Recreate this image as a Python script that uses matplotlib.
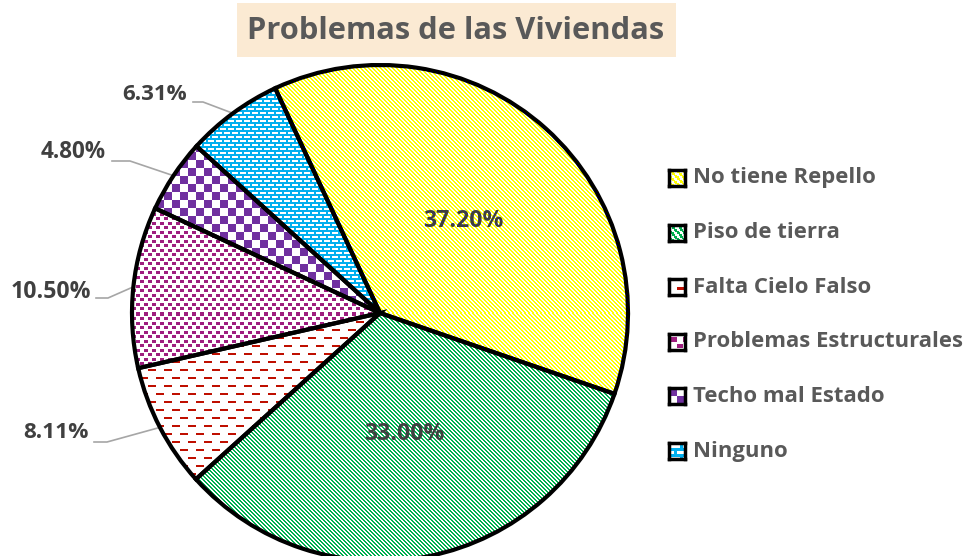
import numpy as np
import matplotlib
matplotlib.use('Agg')
import matplotlib.pyplot as plt
from matplotlib.patches import Rectangle

# data
categories = ['No tiene Repello', 'Piso de tierra', 'Falta Cielo Falso',
              'Problemas Estructurales', 'Techo mal Estado', 'Ninguno']
values = [37.20, 33.00, 8.11, 10.50, 4.80, 6.31]
title = 'Problemas de las Viviendas'

W, H = 965, 556
CX, CY, R = 380, 313, 248   # pie centre / radius in pixels

plt.rcParams['font.family'] = ['Open Sans', 'DejaVu Sans']


def texture(kind, h, w):
    # pattern fills like the excel ones, 1 texel = 1 pixel
    yy, xx = np.mgrid[0:h, 0:w]
    img = np.ones((h, w, 3))
    if kind == 'yellow':
        mask = ((xx - yy) % 4) < 2
        col = (1.0, 1.0, 0.0)
    elif kind == 'green':
        mask = ((xx - yy) % 4) < 2
        col = (0.0, 0.69, 0.31)
    elif kind == 'reddash':
        row = (yy // 8) % 2
        mask = ((yy % 8) < 2) & (((xx + 8 * row) % 16) < 8)
        col = (0.75, 0.06, 0.0)
    elif kind == 'squares':
        a = ((yy % 9) < 3) & ((xx % 8) < 4)
        b = ((yy % 9) >= 5) & ((yy % 9) < 8) & (((xx + 4) % 8) < 4)
        mask = a | b
        col = (0.62, 0.12, 0.50)
    elif kind == 'checker':
        mask = ((xx // 8 + yy // 8) % 2) == 0
        col = (0.44, 0.19, 0.63)
    else:  # blue with white dashes
        row = (yy // 4) % 2
        white = ((yy % 4) < 2) & (((xx + 4 * row) % 8) < 6)
        mask = ~white
        col = (0.0, 0.69, 0.94)
    img[mask] = col
    return img


kinds = ['yellow', 'green', 'reddash', 'squares', 'checker', 'blue']

fig = plt.figure(figsize=(W / 100, H / 100), dpi=100)
renderer = fig.canvas.get_renderer()


def fit(t, target_px):
    # shrink/grow a text so it is as wide as in the reference
    bb = t.get_window_extent(renderer)
    t.set_fontsize(t.get_fontsize() * target_px / bb.width)


# title box
fig.patches.append(Rectangle((237 / W, 1 - 57 / H), (676 - 237) / W, 54 / H,
                             transform=fig.transFigure, facecolor='#FBEAD3',
                             edgecolor='none', zorder=0))
tt = fig.text(456 / W, 1 - 31 / H, title, ha='center', va='center',
              fontsize=22, fontweight='bold', color='#595959')
fit(tt, 417)

ax = fig.add_axes([(CX - R) / W, (H - CY - R) / H, 2 * R / W, 2 * R / H])
wedges, _ = ax.pie(values, startangle=115, counterclock=False, radius=1,
                   wedgeprops=dict(facecolor='none', edgecolor='black',
                                   linewidth=3.0, zorder=3))
for w, k in zip(wedges, kinds):
    im = ax.imshow(texture(k, 2 * R, 2 * R), extent=(-1, 1, -1, 1),
                   interpolation='nearest', zorder=1)
    im.set_clip_path(w)
ax.set_xlim(-1, 1)
ax.set_ylim(-1, 1)
ax.set_aspect('equal')
ax.axis('off')


def px2d(px, py):
    return (px - CX) / R, (CY - py) / R


# inside labels for the two big slices
for i in [0, 1]:
    w = wedges[i]
    mid = np.deg2rad((w.theta1 + w.theta2) / 2)
    t = ax.text(0.5 * np.cos(mid), 0.5 * np.sin(mid), f'{values[i]:.2f}%',
                ha='center', va='center', fontsize=16, fontweight='bold',
                color='#404040', zorder=5)
    fit(t, 80)

# outside labels: text right edge, text centre y, line start, knee (pixels)
outside = {
    5: (187, 95, (193, 102), (203, 102)),
    4: (106, 152, (112, 161), (130, 161)),
    3: (91, 292, (96, 298), (108, 298)),
    2: (89, 433, (94, 442), (107, 442)),
}
for i, (tx, ty, p0, p1) in outside.items():
    w = wedges[i]
    mid = np.deg2rad((w.theta1 + w.theta2) / 2)
    x0, y0 = px2d(*p0)
    x1, y1 = px2d(*p1)
    ax.plot([x0, x1, np.cos(mid)], [y0, y1, np.sin(mid)], color='#A6A6A6',
            lw=1.2, zorder=2, clip_on=False)
    lx, ly = px2d(tx, ty)
    t = ax.text(lx, ly, f'{values[i]:.2f}%', ha='right', va='center',
                fontsize=16, fontweight='bold', color='#404040', clip_on=False)
    fit(t, 65 * len(f'{values[i]:.2f}%') / 5 if i != 3 else 80)

# legend
for j, (name, k) in enumerate(zip(categories, kinds)):
    yc = 178 + j * 54.6
    lax = fig.add_axes([669 / W, 1 - (yc + 8) / H, 16 / W, 16 / H])
    lax.imshow(texture(k, 16, 16)[3:13, 3:13], interpolation='nearest')
    lax.set_xticks([])
    lax.set_yticks([])
    for s in lax.spines.values():
        s.set_linewidth(2.5)
        s.set_color('black')
    t = fig.text(693 / W, 1 - yc / H, name, ha='left', va='center',
                 fontsize=16, fontweight='bold', color='#595959')
    if j == 0:
        fit(t, 183)
        legend_size = t.get_fontsize()
    else:
        t.set_fontsize(legend_size)

fig.savefig('out.png', dpi=100)
